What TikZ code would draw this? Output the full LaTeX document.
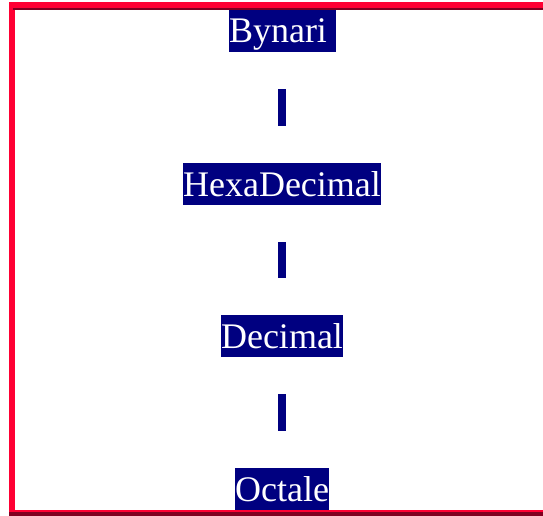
\documentclass[tikz,border=0pt]{standalone}
\usepackage{fontspec}
\setmainfont{Liberation Serif}
\definecolor{navyfill}{HTML}{000080}
\definecolor{borderred}{HTML}{FF0033}
\definecolor{borderdark}{HTML}{800020}
\begin{document}
\begin{tikzpicture}[x=1pt,y=-1pt,
  label box/.style={fill=navyfill,text=white,inner xsep=0pt,inner ysep=0pt,
    text height=33pt,text depth=9pt,
    font=\fontsize{36pt}{42pt}\selectfont},
  bar/.style={draw=navyfill,line width=8pt,shorten >=37pt,shorten <=37pt}]
\useasboundingbox (0,0) rectangle (543,516);
\fill[white] (0,0) rectangle (543,516);
% labels
\node[label box] (bin) at (282.5,31) {Bynari\kern9pt};
\node[label box] (hex) at (282,184) {HexaDecimal};
\node[label box] (dec) at (282,336) {Decimal};
\node[label box] (oct) at (282,489) {Octale};
% connectors
\draw[bar] ([xshift=-0.5pt]bin.south) -- (hex.north);
\draw[bar] (hex.south) -- (dec.north);
\draw[bar] (dec.south) -- (oct.north);
% border
\fill[borderred] (9,2) rectangle (15,512);
\fill[borderred] (9,2) rectangle (543,8);
\fill[borderdark] (13,8) rectangle (543,10);
\fill[borderred] (9,510) rectangle (543,512);
\fill[borderdark] (9,512) rectangle (543,516);
\end{tikzpicture}
\end{document}
